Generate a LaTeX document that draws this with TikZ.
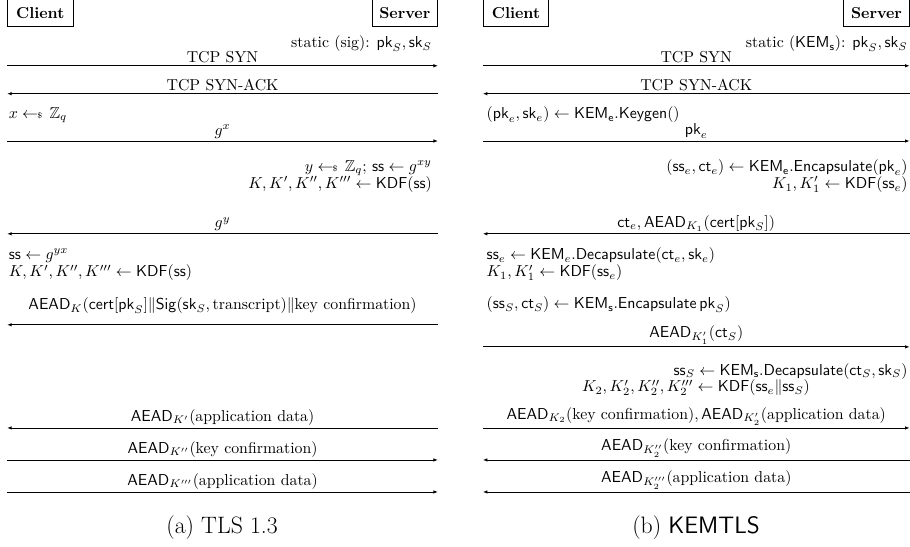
\documentclass[tikz,border=0pt]{standalone}
\usepackage{amsmath,amssymb}
\usepackage{tikz}
\usetikzlibrary{arrows.meta,positioning}
\newcommand{\mpk}{\mathsf{pk}}
\newcommand{\msk}{\mathsf{sk}}
\newcommand{\mss}{\mathsf{ss}}
\newcommand{\mct}{\mathsf{ct}}
\newcommand{\mKDF}{\mathsf{KDF}}
\newcommand{\mAEAD}{\mathsf{AEAD}}
\newcommand{\mKEM}{\mathsf{KEM}}
\newcommand{\mcert}{\mathsf{cert}}
\newcommand{\sampled}{\mathrel{\leftarrow\!\!{\mbox{\tiny\$}}}\,}
\begin{document}
\begin{tikzpicture}[>={Latex[length=2.8pt,width=2.2pt]},
  party/.style={draw,line width=0.5pt,minimum width=1.45cm,minimum height=0.6cm,font=\bfseries},
  msg/.style={->,line width=0.5pt},
  lbl/.style={above,inner sep=1.5pt},
  calcl/.style={anchor=west,inner sep=0.5pt},
  calcr/.style={anchor=east,inner sep=0.5pt},
  subcap/.style={font=\fontsize{15}{18}\selectfont}]
  \useasboundingbox (0,0) rectangle (20.2,12.14);
  % (a) TLS 1.3
  \node[party,anchor=north west] (cliA) at (0.16,12.16) {Client};
  \node[party,anchor=north east] (srvA) at (9.72,12.16) {Server};
  \node[calcr] (keyA) at (9.61,11.17) {static (sig): $\mpk_S, \msk_S$};
  \draw[msg] (cliA.west |- 0,10.68) -- (srvA.east |- 0,10.68) node[midway,lbl] {TCP SYN};
  \draw[msg] (srvA.east |- 0,10.06) -- (cliA.west |- 0,10.06) node[midway,lbl] {TCP SYN-ACK};
  \node[calcl] (xA) at (0.17,9.59) {$x \sampled \mathbb{Z}_q$};
  \draw[msg] (cliA.west |- 0,9.01) -- (srvA.east |- 0,9.01) node[midway,lbl] {$g^x$};
  \node[calcr] (yA) at (9.61,8.41) {$y \sampled \mathbb{Z}_q$; $\mss \gets g^{xy}$};
  \node[calcr] (kdfA) at (9.61,8.04) {$K, K', K'', K''' \gets \mKDF(\mss)$};
  \draw[msg] (srvA.east |- 0,6.95) -- (cliA.west |- 0,6.95) node[midway,lbl] {$g^y$};
  \node[calcl] (ssA) at (0.17,6.46) {$\mss \gets g^{yx}$};
  \node[calcl] (kdfA2) at (0.17,6.08) {$K, K', K'', K''' \gets \mKDF(\mss)$};
  \draw[msg] (srvA.east |- 0,4.93) -- (cliA.west |- 0,4.93) node[midway,lbl,above=5.2pt]
    {$\mAEAD_K(\mcert[\mpk_S] \| \mathsf{Sig}(\msk_S, \text{transcript}) \| \text{key confirmation})$};
  \draw[msg] (srvA.east |- 0,2.64) -- (cliA.west |- 0,2.64) node[midway,lbl] {$\mAEAD_{K'}$(application data)};
  \draw[msg] (cliA.west |- 0,1.93) -- (srvA.east |- 0,1.93) node[midway,lbl] {$\mAEAD_{K''}$(key confirmation)};
  \draw[msg] (cliA.west |- 0,1.22) -- (srvA.east |- 0,1.22) node[midway,lbl] {$\mAEAD_{K'''}$(application data)};
  \node[subcap] (capA) at (4.93,0.44) {(a) TLS 1.3};
  % (b) KEMTLS
  \node[party,anchor=north west] (cliB) at (10.72,12.16) {Client};
  \node[party,anchor=north east] (srvB) at (20.19,12.16) {Server};
  \node[calcr] (keyB) at (20.17,11.17) {static ($\mKEM_\mathsf{s}$): $\mpk_S, \msk_S$};
  \draw[msg] (cliB.west |- 0,10.68) -- (srvB.east |- 0,10.68) node[midway,lbl] {TCP SYN};
  \draw[msg] (srvB.east |- 0,10.06) -- (cliB.west |- 0,10.06) node[midway,lbl] {TCP SYN-ACK};
  \node[calcl] (genB) at (10.78,9.59) {$(\mpk_e, \msk_e) \gets \mKEM_\mathsf{e}.\mathsf{Keygen}()$};
  \draw[msg] (cliB.west |- 0,9.01) -- (srvB.east |- 0,9.01) node[midway,lbl] {$\mpk_e$};
  \node[calcr] (encB) at (20.17,8.41) {$(\mss_e, \mct_e) \gets \mKEM_\mathsf{e}.\mathsf{Encapsulate}(\mpk_e)$};
  \node[calcr] (kdfB) at (20.17,8.04) {$K_1, K_1' \gets \mKDF(\mss_e)$};
  \draw[msg] (srvB.east |- 0,6.95) -- (cliB.west |- 0,6.95) node[midway,lbl] {$\mct_e, \mAEAD_{K_1}(\mcert[\mpk_S])$};
  \node[calcl] (decB) at (10.78,6.46) {$\mss_e \gets \mKEM_e.\mathsf{Decapsulate}(\mct_e, \msk_e)$};
  \node[calcl] (kdfB2) at (10.78,6.08) {$K_1, K_1' \gets \mKDF(\mss_e)$};
  \node[calcl] (encB2) at (10.78,5.37) {$(\mss_S, \mct_S) \gets \mKEM_\mathsf{s}.\mathsf{Encapsulate}\,\mpk_S)$};
  \draw[msg] (cliB.west |- 0,4.44) -- (srvB.east |- 0,4.44) node[midway,lbl] {$\mAEAD_{K_1'}(\mct_S)$};
  \node[calcr] (decB2) at (20.17,3.89) {$\mss_S \gets \mKEM_\mathsf{s}.\mathsf{Decapsulate}(\mct_S, \msk_S)$};
  \node[inner sep=0.5pt] (kdfB3) at (15.45,3.53) {$K_2, K_2', K_2'', K_2''' \gets \mKDF(\mss_e \| \mss_S)$};
  \draw[msg] (cliB.west |- 0,2.64) -- (srvB.east |- 0,2.64) node[midway,lbl]
    {$\mAEAD_{K_2}$(key confirmation)$, \mAEAD_{K_2'}$(application data)};
  \draw[msg] (srvB.east |- 0,1.93) -- (cliB.west |- 0,1.93) node[midway,lbl] {$\mAEAD_{K_2''}$(key confirmation)};
  \draw[msg] (srvB.east |- 0,1.22) -- (cliB.west |- 0,1.22) node[midway,lbl] {$\mAEAD_{K_2'''}$(application data)};
  \node[subcap] (capB) at (15.45,0.44) {(b) \textsf{KEMTLS}};
\end{tikzpicture}
\end{document}
